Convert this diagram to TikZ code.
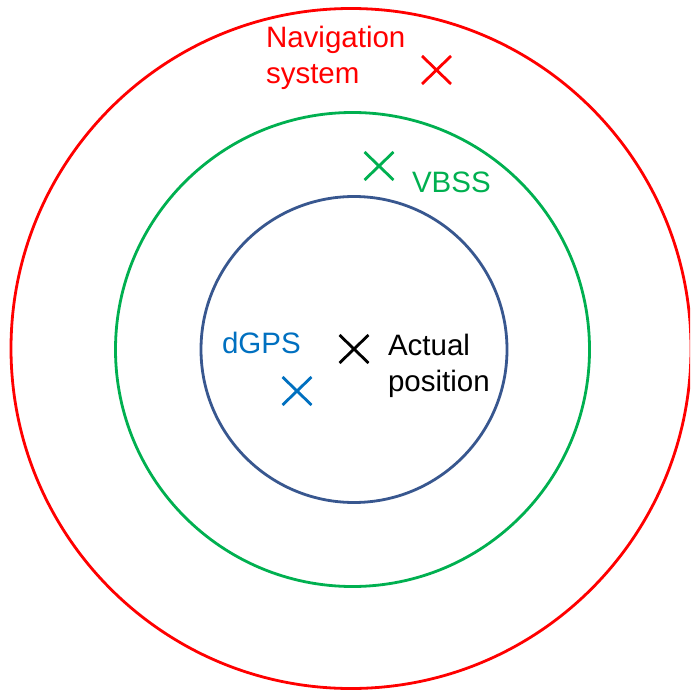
\documentclass[tikz,border=0pt]{standalone}
\usepackage{fontspec}
\setmainfont{Liberation Sans}
\usetikzlibrary{shapes.misc}
\definecolor{navred}{RGB}{255,0,0}
\definecolor{vbssgreen}{RGB}{0,176,80}
\definecolor{gpsblue}{RGB}{0,112,192}
\definecolor{ringblue}{RGB}{56,87,143}
\begin{document}
\begin{tikzpicture}[x=1pt,y=-1pt,
  ring/.style={circle,draw,line width=2.8pt,inner sep=0pt,outer sep=0pt},
  xmark/.style={cross out,draw,line width=2.8pt,inner sep=0pt,outer sep=0pt,minimum width=29pt,minimum height=28pt},
  lbl/.style={inner sep=0pt,outer sep=0pt,anchor=base west,align=left,font=\fontsize{29.5}{36}\selectfont}]
\useasboundingbox (0,0) rectangle (690,692);
\clip (0,0) rectangle (690,692);
\fill[white] (0,0) rectangle (690,692);
\node[ring,draw=navred,minimum size=680pt] (nav) at (351,348.5) {};
\node[ring,draw=vbssgreen,minimum size=474pt] (vbss) at (352.5,349.5) {};
\node[ring,draw=ringblue,minimum size=306pt] (dgps) at (354,349.5) {};
\node[xmark,draw=navred] (xnav) at (436.5,70) {};
\node[xmark,draw=vbssgreen] (xvbss) at (379,166) {};
\node[xmark,draw=gpsblue] (xgps) at (297,391) {};
\node[xmark,draw=black] (xact) at (354,349) {};
\node[lbl,text=navred] (tnav) at (266,84) {Navigation\\system};
\node[lbl,text=vbssgreen] (tvbss) at (412,193) {VBSS};
\node[lbl,text=gpsblue] (tgps) at (222,353) {dGPS};
\node[lbl,text=black] (tact) at (388,391) {Actual\\position};
\end{tikzpicture}
\end{document}
